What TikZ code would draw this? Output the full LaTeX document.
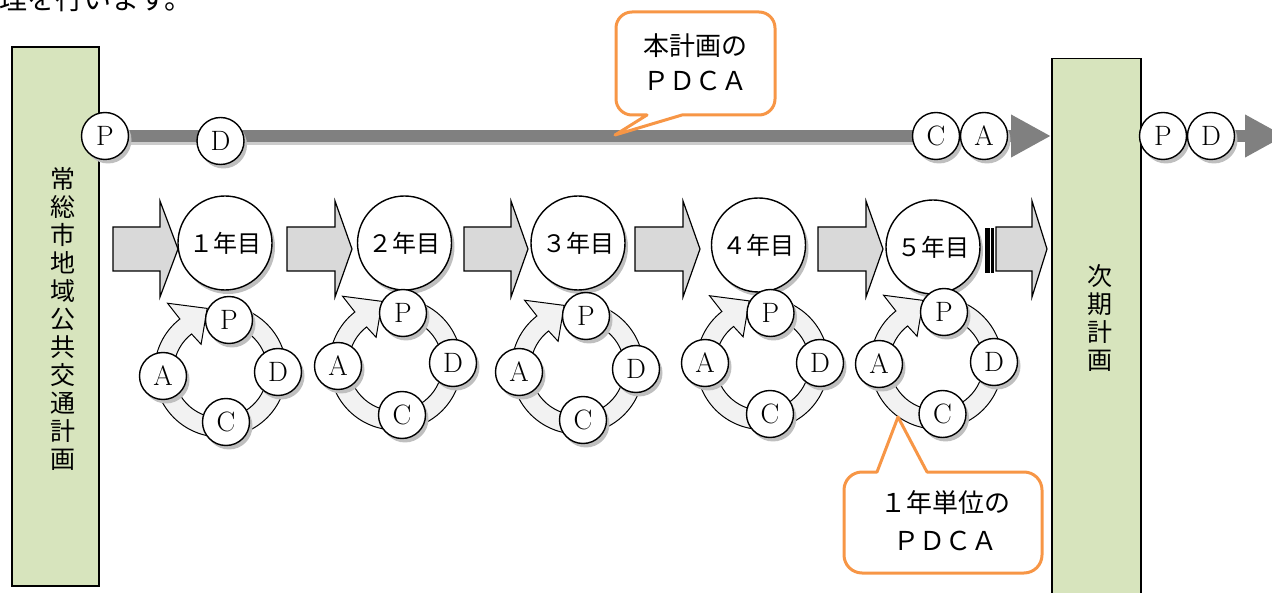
\documentclass[tikz,border=0pt]{standalone}
\usepackage{fontspec}
\newfontfamily\jp{Noto Sans CJK JP}
\usetikzlibrary{shadows,backgrounds,arrows.meta}
\definecolor{boxgreen}{HTML}{D7E4BD}
\definecolor{callorange}{HTML}{F79646}
\definecolor{linegray}{HTML}{808080}
\definecolor{arrowgray}{HTML}{D9D9D9}
\definecolor{ringgray}{HTML}{F2F2F2}
\newcommand\blkarrow[3]{\draw[blockarrow] (#1,-227) -- (#2,-227) -- (#2,-201) -- (#3,-249) -- (#2,-297) -- (#2,-271) -- (#1,-271) -- cycle;}
\begin{document}
\begin{tikzpicture}[x=1pt,y=1pt,
  pc/.style={circle, draw, line width=1.4pt, fill=white, minimum size=47pt, inner sep=0pt,
    font=\fontsize{28}{28}\selectfont,
    drop shadow={shadow xshift=3pt,shadow yshift=-4pt,fill=black!25,opacity=1}},
  yc/.style={pc, minimum size=94pt, font=\jp\fontsize{24}{24}\selectfont},
  blockarrow/.style={draw, line width=1.2pt, fill=arrowgray, line join=miter},
  greenbox/.style={draw, line width=1.5pt, fill=boxgreen, inner sep=0pt},
  vtext/.style={font=\jp\fontsize{25}{28}\selectfont, align=center, inner sep=0pt},
  callout/.style={draw=callorange, line width=3pt, fill=white, line join=round},
  calltext/.style={font=\jp\fontsize{26}{35}\selectfont, align=center, inner sep=0pt},
  mainline/.style={draw=linegray, line width=12pt},
  pdcaring/.pic={\draw[line width=1pt, fill=ringgray] (90:66) arc[start angle=90,end angle=-232,radius=66]
      -- (128:86) -- (102:64) -- (126:33) -- (128:47) arc[start angle=128,end angle=450,radius=47] -- cycle;}
]
\useasboundingbox (0,0) rectangle (1272,-593);
\clip (0,0) rectangle (1272,-593);

% cut-off text line at top (cut off in the reference as well)
\node[font=\jp\fontsize{28}{28}\selectfont, anchor=base west, inner sep=0pt] (toptext) at (-1,-10) {理を行います。};

% plan boxes
\node[greenbox, minimum width=87pt, minimum height=539pt] (plan) at (55.5,-316.5) {};
\node[vtext] (plantext) at (63,-318.5) {常\\総\\市\\地\\域\\公\\共\\交\\通\\計\\画};
\node[greenbox, minimum width=89pt, minimum height=560pt, anchor=north west] (nextplan) at (1051,-58) {};
\node[vtext] (nexttext) at (1100,-318.5) {次\\期\\計\\画};

% main PDCA circles
\node[pc] (mP) at (105,-136) {P};
\node[pc] (mD) at (220.5,-141) {D};
\node[pc] (mC) at (936,-136) {C};
\node[pc] (mA) at (984,-136) {A};
\node[pc] (nP) at (1163,-136) {P};
\node[pc] (nD) at (1211,-136) {D};
\coordinate (lineend) at (1285,-136);

\begin{scope}[on background layer]
  \draw[line width=12pt, draw=black!20, transform canvas={xshift=2pt,yshift=-3pt}] (mP.center) -- (mA.center);
  \draw[mainline, -{Triangle[length=40pt,width=40pt]}] (mP.center) -- (nextplan.west |- mP.center);
  \draw[mainline, -{Triangle[length=40pt,width=40pt]}] (nD.center) -- (lineend);
\end{scope}

% block arrows
\blkarrow{113}{160}{178}
\blkarrow{287}{335}{352}
\blkarrow{464}{511}{528}
\blkarrow{635}{683}{700}
\blkarrow{818}{866}{883}
\blkarrow{996}{1032}{1047}
\fill (985,-228) rectangle (989.5,-273);
\fill (991,-228) rectangle (993.5,-273);

% year circles
\node[yc] (y1) at (225,-243) {１年目};
\node[yc] (y2) at (404.5,-243) {２年目};
\node[yc] (y3) at (578,-243) {３年目};
\node[yc] (y4) at (758.5,-245) {４年目};
\node[yc] (y5) at (933,-247) {５年目};

% yearly cycles
\pic at (220.5,-371) {pdcaring};
\node[pc] (s1P) at (229,-320) {P};
\node[pc] (s1A) at (163,-376) {A};
\node[pc] (s1D) at (278,-372) {D};
\node[pc] (s1C) at (226,-422) {C};

\pic at (395.5,-364) {pdcaring};
\node[pc] (s2P) at (403,-313) {P};
\node[pc] (s2A) at (338,-366) {A};
\node[pc] (s2D) at (453,-363) {D};
\node[pc] (s2C) at (402,-415) {C};

\pic at (577.5,-368) {pdcaring};
\node[pc] (s3P) at (586,-316) {P};
\node[pc] (s3A) at (519,-372) {A};
\node[pc] (s3D) at (636,-369) {D};
\node[pc] (s3C) at (583,-420) {C};

\pic at (762.5,-363.5) {pdcaring};
\node[pc] (s4P) at (770.5,-313) {P};
\node[pc] (s4A) at (705,-363) {A};
\node[pc] (s4D) at (820,-363) {D};
\node[pc] (s4C) at (770,-414) {C};

\pic at (936.5,-363) {pdcaring};
\node[pc] (s5P) at (944,-312) {P};
\node[pc] (s5A) at (879,-364) {A};
\node[pc] (s5D) at (994,-362) {D};
\node[pc] (s5C) at (942.5,-414) {C};

% callouts
\draw[callout] (647,-115) -- (615,-135) -- (682,-115) -- (759,-115)
  arc[start angle=-90,end angle=0,radius=16] -- (775,-28)
  arc[start angle=0,end angle=90,radius=16] -- (632,-12)
  arc[start angle=90,end angle=180,radius=16] -- (616,-99)
  arc[start angle=180,end angle=270,radius=16] -- cycle;
\node[calltext] (ct1) at (695,-62.5) {本計画の\\ＰＤＣＡ};

\draw[callout] (927,-472) -- (898,-417) -- (877,-472) -- (862,-472)
  arc[start angle=90,end angle=180,radius=18] -- (844,-555)
  arc[start angle=180,end angle=270,radius=18] -- (1024,-573)
  arc[start angle=270,end angle=360,radius=18] -- (1042,-490)
  arc[start angle=0,end angle=90,radius=18] -- cycle;
\node[calltext, font=\jp\fontsize{26}{38}\selectfont] (ct2) at (945,-521) {１年単位の\\ＰＤＣＡ};
\end{tikzpicture}
\end{document}
